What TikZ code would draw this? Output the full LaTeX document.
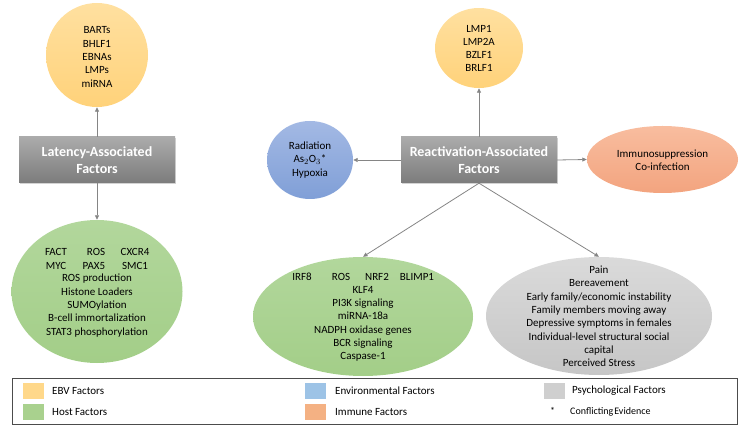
\documentclass[tikz,border=0pt]{standalone}
\usepackage{fontspec}
\setmainfont{Carlito}
\usetikzlibrary{shapes.geometric,arrows.meta,shadows}
\definecolor{ebvT}{HTML}{FFE0A0}
\definecolor{ebvB}{HTML}{FFD27A}
\definecolor{hostT}{HTML}{B2D79C}
\definecolor{hostB}{HTML}{A3CE88}
\definecolor{envT}{HTML}{A3B9E4}
\definecolor{envB}{HTML}{809FD7}
\definecolor{immT}{HTML}{F8BD9F}
\definecolor{immB}{HTML}{F3A47F}
\definecolor{psyT}{HTML}{DADADA}
\definecolor{psyB}{HTML}{C6C6C6}
\definecolor{boxT}{HTML}{ABABAB}
\definecolor{boxB}{HTML}{7C7C7C}
\definecolor{arrowc}{HTML}{858585}
\definecolor{swEBV}{HTML}{FFD88A}
\definecolor{swHost}{HTML}{A9D18E}
\definecolor{swEnv}{HTML}{9DC3E6}
\definecolor{swImm}{HTML}{F4B183}
\definecolor{swPsy}{HTML}{CFCFCF}
\begin{document}
\begin{tikzpicture}[x=1pt,y=-1pt,
  blob/.style={ellipse,inner sep=0pt,draw=none},
  txt/.style={align=center,inner sep=0pt,font=\fontsize{11}{13.3}\selectfont},
  factorbox/.style={rectangle,inner sep=0pt,minimum width=156pt,minimum height=46pt,
    top color=boxT,bottom color=boxB,draw=none,text=white,align=center,
    font=\fontsize{14}{17}\selectfont\bfseries,
    drop shadow={opacity=0.35,shadow xshift=1pt,shadow yshift=-1.5pt}},
  conn/.style={draw=arrowc,line width=0.8pt,-{Triangle[length=4.5pt,width=4pt]}},
  swatch/.style={rectangle,inner sep=0pt,minimum width=21pt,minimum height=16pt,draw=none},
  legtxt/.style={anchor=west,inner sep=0pt,font=\fontsize{11}{12}\selectfont}]
\useasboundingbox (0,0) rectangle (749,435);

% Latency side
\node[blob,minimum width=102pt,minimum height=104pt,top color=ebvT,bottom color=ebvB] (ebvL) at (97,55) {};
\node[txt] (ebvLt) at (97,57) {BARTs\\BHLF1\\EBNAs\\LMPs\\miRNA};
\node[factorbox] (lat) at (97,160) {Latency-Associated\\Factors};
\node[blob,minimum width=171pt,minimum height=143pt,top color=hostT,bottom color=hostB] (hostL) at (97,291.5) {};
\node[txt] (hl1) at (56,252) {FACT};
\node[txt] (hl2) at (96,252) {ROS};
\node[txt] (hl3) at (135,252) {CXCR4};
\node[txt] (hl4) at (56,266) {MYC};
\node[txt] (hl5) at (94,266) {PAX5};
\node[txt] (hl6) at (135,266) {SMC1};
\node[txt] (hlt) at (97,305.5) {ROS production\\Histone Loaders\\SUMOylation\\B-cell immortalization\\STAT3 phosphorylation};

% Reactivation side
\node[blob,minimum width=88pt,minimum height=80pt,top color=ebvT,bottom color=ebvB] (ebvR) at (479,48) {};
\node[txt] (ebvRt) at (479,48.5) {LMP1\\LMP2A\\BZLF1\\BRLF1};
\node[factorbox] (rea) at (479,160) {Reactivation-Associated\\Factors};
\node[blob,minimum width=86pt,minimum height=78pt,top color=envT,bottom color=envB] (env) at (310,160) {};
\node[txt] (envt) at (310,160) {Radiation\\As$_2$O$_3$*\\Hypoxia};
\node[blob,minimum width=151pt,minimum height=67pt,top color=immT,bottom color=immB] (imm) at (662.5,159.5) {};
\node[txt] (immt) at (662.5,160.5) {Immunosuppression\\Co-infection};
\node[blob,minimum width=220pt,minimum height=119pt,top color=hostT,bottom color=hostB] (hostR) at (363,316.5) {};
\node[txt] (hr1) at (302,277) {IRF8};
\node[txt] (hr2) at (341,277) {ROS};
\node[txt] (hr3) at (377,277) {NRF2};
\node[txt] (hr4) at (417,277) {BLIMP1};
\node[txt] (hrt) at (363,324) {KLF4\\PI3K signaling\\miRNA-18a\\NADPH oxidase genes\\BCR signaling\\Caspase-1};
\node[blob,minimum width=226pt,minimum height=118pt,top color=psyT,bottom color=psyB] (psy) at (599,316) {};
\node[txt] (psyt) at (599,316.5) {Pain\\Bereavement\\Early family/economic instability\\Family members moving away\\Depressive symptoms in females\\Individual-level structural social\\capital\\Perceived Stress};

% connectors
\draw[conn] (lat.north) -- (ebvL.south);
\draw[conn] (lat.south) -- (hostL.north);
\draw[conn] (rea.north) -- (ebvR.south);
\draw[conn] (rea.west) -- (env.east);
\draw[conn] (rea.east) -- (imm.west);
\draw[conn] (rea.south) -- (hostR.north);
\draw[conn] (rea.south) -- (psy.north);

% legend
\node[rectangle,draw=black!70,line width=1pt,minimum width=725pt,minimum height=46pt,inner sep=0pt] (leg) at (374.5,401) {};
\node[swatch,fill=swEBV] (s1) at (33.5,391) {};
\node[legtxt] (l1) at (52,391) {EBV Factors};
\node[swatch,fill=swHost] (s2) at (33.5,412) {};
\node[legtxt] (l2) at (52,412) {Host Factors};
\node[swatch,fill=swEnv] (s3) at (315.5,391) {};
\node[legtxt] (l3) at (335,391) {Environmental Factors};
\node[swatch,fill=swImm] (s4) at (315.5,412) {};
\node[legtxt] (l4) at (335,412) {Immune Factors};
\node[swatch,fill=swPsy] (s5) at (554.5,391) {};
\node[legtxt] (l5) at (572,391) {Psychological Factors};
\node[legtxt,font=\fontsize{10}{11}\selectfont] (l6s) at (550,411) {*};
\node[legtxt,font=\fontsize{10}{11}\selectfont] (l6) at (570,412) {Conflicting\hspace{1pt}Evidence};
\end{tikzpicture}
\end{document}
